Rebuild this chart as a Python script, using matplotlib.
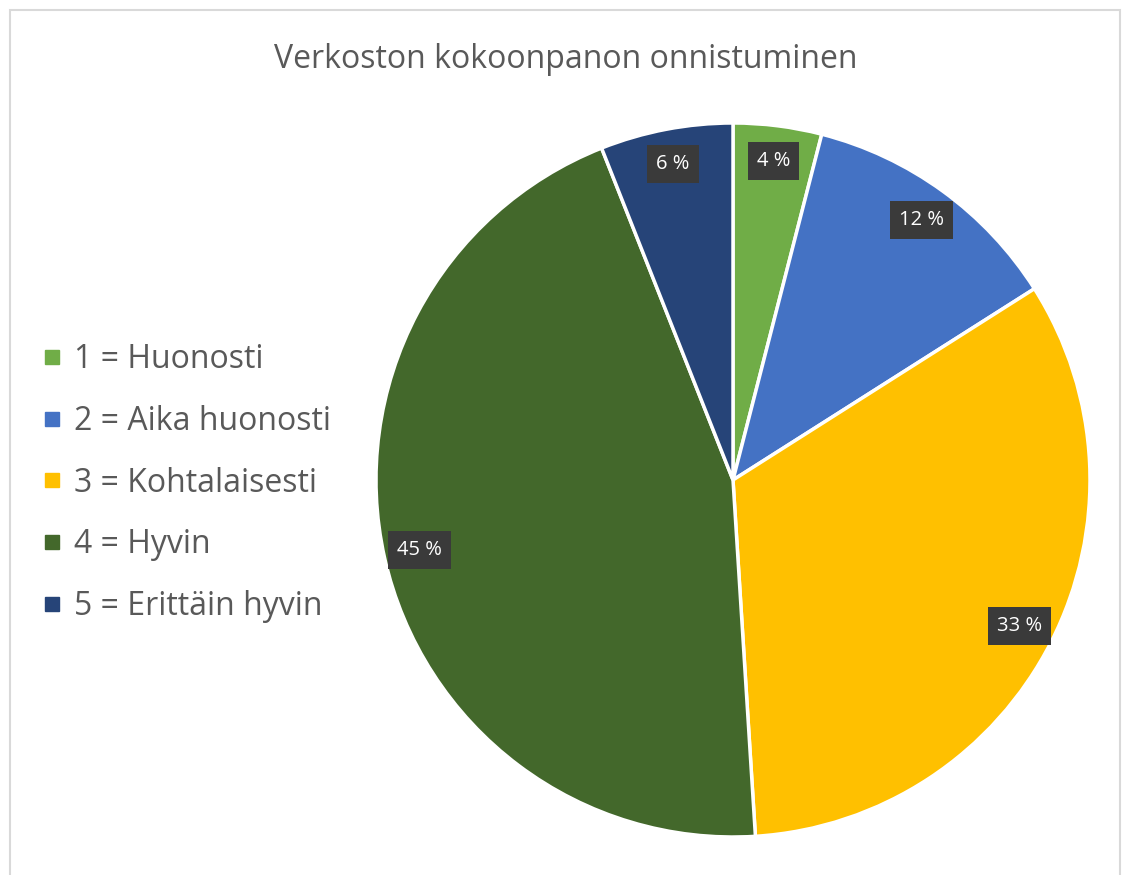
import matplotlib.pyplot as plt
from matplotlib.lines import Line2D
from matplotlib.patches import Rectangle

# Data
categories = ['1 = Huonosti', '2 = Aika huonosti', '3 = Kohtalaisesti',
              '4 = Hyvin', '5 = Erittäin hyvin']
shares = [4, 12, 33, 45, 6]
colors = ['#70AD47', '#4472C4', '#FFC000', '#43682B', '#264478']
title = 'Verkoston kokoonpanon onnistuminen'

plt.rcParams['font.family'] = ['Open Sans', 'DejaVu Sans']

W, H = 1122, 875
fig = plt.figure(figsize=(W / 100, H / 100), dpi=100)

# light frame around the chart area
fig.patches.append(Rectangle((10 / W, -0.01), (1120 - 10) / W, 1 - 10 / H + 0.01,
                             transform=fig.transFigure, fill=False,
                             edgecolor='#d9d9d9', linewidth=1.5))

cx, cy, r = 733, 480, 357
ax = fig.add_axes([(cx - r) / W, (H - cy - r) / H, 2 * r / W, 2 * r / H])

wedges, texts, autotexts = ax.pie(
    shares, colors=colors, startangle=90, counterclock=False,
    autopct=lambda p: f'{p:.0f} %', pctdistance=0.9,
    wedgeprops=dict(edgecolor='white', linewidth=2.5),
    textprops=dict(color='white', fontsize=14.5))
for t in autotexts:
    t.set_bbox(dict(boxstyle='square,pad=0.45', facecolor='#3a3a3a', edgecolor='none'))
ax.set_xlim(-1, 1)
ax.set_ylim(-1, 1)
ax.set_aspect('equal')
ax.axis('off')

fig.text(566 / W, 1 - 59 / H, title, ha='center', va='center',
         fontsize=23, color='#595959')

handles = [Line2D([], [], marker='s', linestyle='none', markersize=10,
                  markerfacecolor=c, markeredgecolor=c) for c in colors]
fig.legend(handles, categories, loc='center left',
           bbox_to_anchor=(42 / W, 1 - 483 / H), frameon=False,
           fontsize=23, labelcolor='#595959', labelspacing=0.90,
           handlelength=0.6, handletextpad=0.4, borderpad=0, borderaxespad=0)

fig.savefig('out.png', dpi=100, facecolor='white')
